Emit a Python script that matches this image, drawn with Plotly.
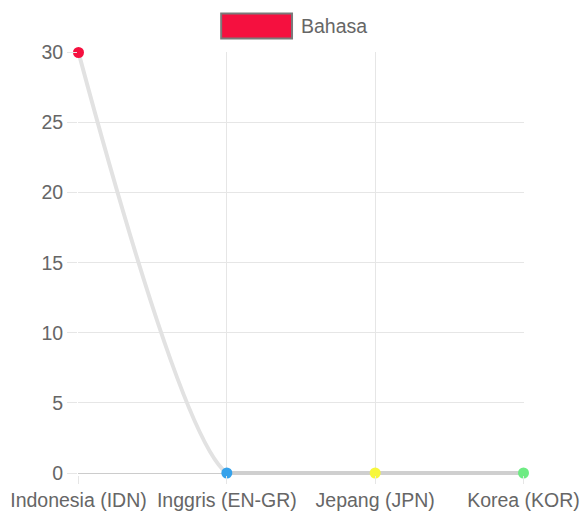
import plotly.graph_objects as go

categories = ["Indonesia (IDN)", "Inggris (EN-GR)", "Jepang (JPN)", "Korea (KOR)"]
values = [30, 0, 0, 0]
point_colors = ["#F5103F", "#36A2EB", "#F7F73C", "#6EEB83"]
series_name = "Bahasa"
y_ticks = [0, 5, 10, 15, 20, 25, 30]

FONT = "Liberation Sans, Arial, sans-serif"
GRID = "#e6e6e6"
PX_PER_UNIT = 421 / 30

fig = go.Figure()

# smooth curve through all points (overshoot below zero is clipped / covered)
fig.add_trace(go.Scatter(
    x=categories, y=values, mode="lines",
    line=dict(color="#e2e2e2", width=4, shape="spline", smoothing=0.6),
    showlegend=False, hoverinfo="skip",
))
# flat part along the zero line
fig.add_trace(go.Scatter(
    x=categories[1:], y=values[1:], mode="lines",
    line=dict(color="#cfcfcf", width=4),
    showlegend=False, hoverinfo="skip",
))
# points
fig.add_trace(go.Scatter(
    x=categories, y=values, mode="markers", name=series_name,
    marker=dict(color=point_colors, size=11, line=dict(width=0)),
    cliponaxis=False, showlegend=False,
))

# plot area: x 77.5..524.5 px, y 51.5..475 px
PL, PR, PT, PB = 77.5, 524.5, 51.5, 475
pw, ph = PR - PL, PB - PT

# legend drawn as box + label
fig.add_shape(type="rect", xref="paper", yref="paper",
              x0=(221 - PL) / pw, x1=(292 - PL) / pw,
              y0=(PB - 38) / ph, y1=(PB - 13) / ph,
              fillcolor="#F5103F", line=dict(color="#7a7a7a", width=2))
fig.add_annotation(text=series_name, xref="paper", yref="paper",
                   x=(299 - PL) / pw, y=(PB - 25.5) / ph,
                   xanchor="left", yanchor="middle", showarrow=False,
                   font=dict(family=FONT, size=19.5, color="#666666"))

fig.update_layout(
    width=583, height=516,
    margin=dict(l=PL, r=583 - PR, t=PT, b=516 - PB),
    paper_bgcolor="white", plot_bgcolor="white",
    font=dict(family=FONT, size=19.5, color="#666666"),
    showlegend=False,
)
fig.update_xaxes(
    type="category", range=[-0.5 / 149, 3 + 0.5 / 149], automargin=False,
    showgrid=True, gridcolor=GRID, gridwidth=1,
    ticks="outside", ticklen=8, tickcolor=GRID, showline=False, zeroline=False,
    tickfont=dict(family=FONT, size=19.5, color="#666666"),
)
fig.update_yaxes(
    range=[-2 / PX_PER_UNIT, 30 + 0.5 / PX_PER_UNIT], tickvals=y_ticks, automargin=False,
    showgrid=True, gridcolor=GRID,
    gridwidth=1, ticks="outside", ticklen=10, tickcolor=GRID,
    zeroline=True, zerolinecolor="#cccccc", zerolinewidth=1, showline=False,
    tickfont=dict(family=FONT, size=19.5, color="#666666"),
)

fig.write_html("out.html", config={"displayModeBar": False})

# remove the default page margin so the figure sits at the window's corner
with open("out.html", encoding="utf-8") as f:
    html = f.read()
html = html.replace("<body>", '<body style="margin:0;overflow:hidden">', 1)
with open("out.html", "w", encoding="utf-8") as f:
    f.write(html)
